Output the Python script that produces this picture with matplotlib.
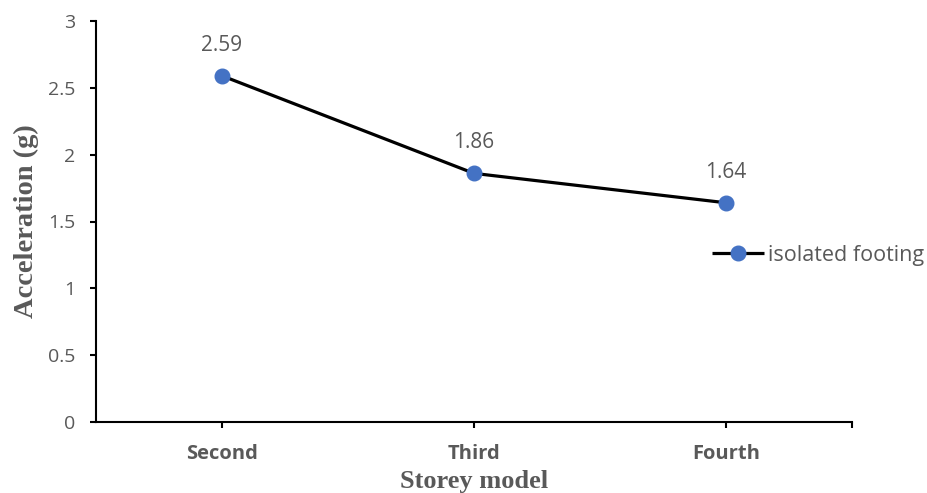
import matplotlib.pyplot as plt
import matplotlib.ticker as mticker

categories = ["Second", "Third", "Fourth"]
acceleration = [2.59, 1.86, 1.64]
series_name = "isolated footing"
y_ticks = [0, 0.5, 1, 1.5, 2, 2.5, 3]
y_tick_labels = ["0", "0.5", "1", "1.5", "2", "2.5", "3"]

GREY = "#595959"
BLUE = "#4472C4"
SANS = ["Open Sans", "DejaVu Sans"]
SERIF = ["Liberation Serif", "DejaVu Serif"]

fig = plt.figure(figsize=(9.28, 4.93), dpi=100)
ax = fig.add_axes([96 / 928, 1 - 422 / 493, (852 - 96) / 928, (422 - 21) / 493])

x = list(range(len(categories)))
ax.plot(x, acceleration, color="black", lw=2.3, marker="o", markersize=10.5,
        markerfacecolor=BLUE, markeredgecolor=BLUE, label=series_name, zorder=3,
        solid_capstyle="butt")

for xi, v in zip(x, acceleration):
    ax.annotate(f"{v:.2f}", (xi, v), xytext=(0, 22), textcoords="offset points",
                ha="center", va="center", color=GREY, fontsize=15, family=SANS)

ax.set_xlim(-0.5, 2.5)
ax.set_ylim(0, 3)
ax.set_xticks(x)
ax.set_xticklabels(categories, fontsize=14.5, fontweight="bold", color=GREY, family=SANS)
ax.xaxis.set_minor_locator(mticker.FixedLocator([2.5]))
ax.set_yticks(y_ticks)
ax.set_yticklabels(y_tick_labels, fontsize=14, color=GREY, family=SANS)

ax.tick_params(axis="both", which="both", direction="out", length=4, width=1.5, color="black")
ax.tick_params(axis="x", pad=12)
ax.tick_params(axis="y", pad=11)

for side in ("top", "right"):
    ax.spines[side].set_visible(False)
for side in ("left", "bottom"):
    ax.spines[side].set_linewidth(1.5)
    ax.spines[side].set_color("black")

ax.set_xlabel("Storey model", fontsize=19, fontweight="bold", color=GREY, family=SERIF, labelpad=4)
ax.set_ylabel("Acceleration (g)", fontsize=20.5, fontweight="bold", color=GREY, family=SERIF, labelpad=6)

leg = fig.legend(loc="center left", bbox_to_anchor=(712 / 928, 1 - 255 / 493), frameon=False,
                 handlelength=2.4, handletextpad=0.2, borderaxespad=0, borderpad=0,
                 prop={"family": SANS, "size": 15.5})
for t in leg.get_texts():
    t.set_color(GREY)

fig.savefig("out.png", dpi=100)
